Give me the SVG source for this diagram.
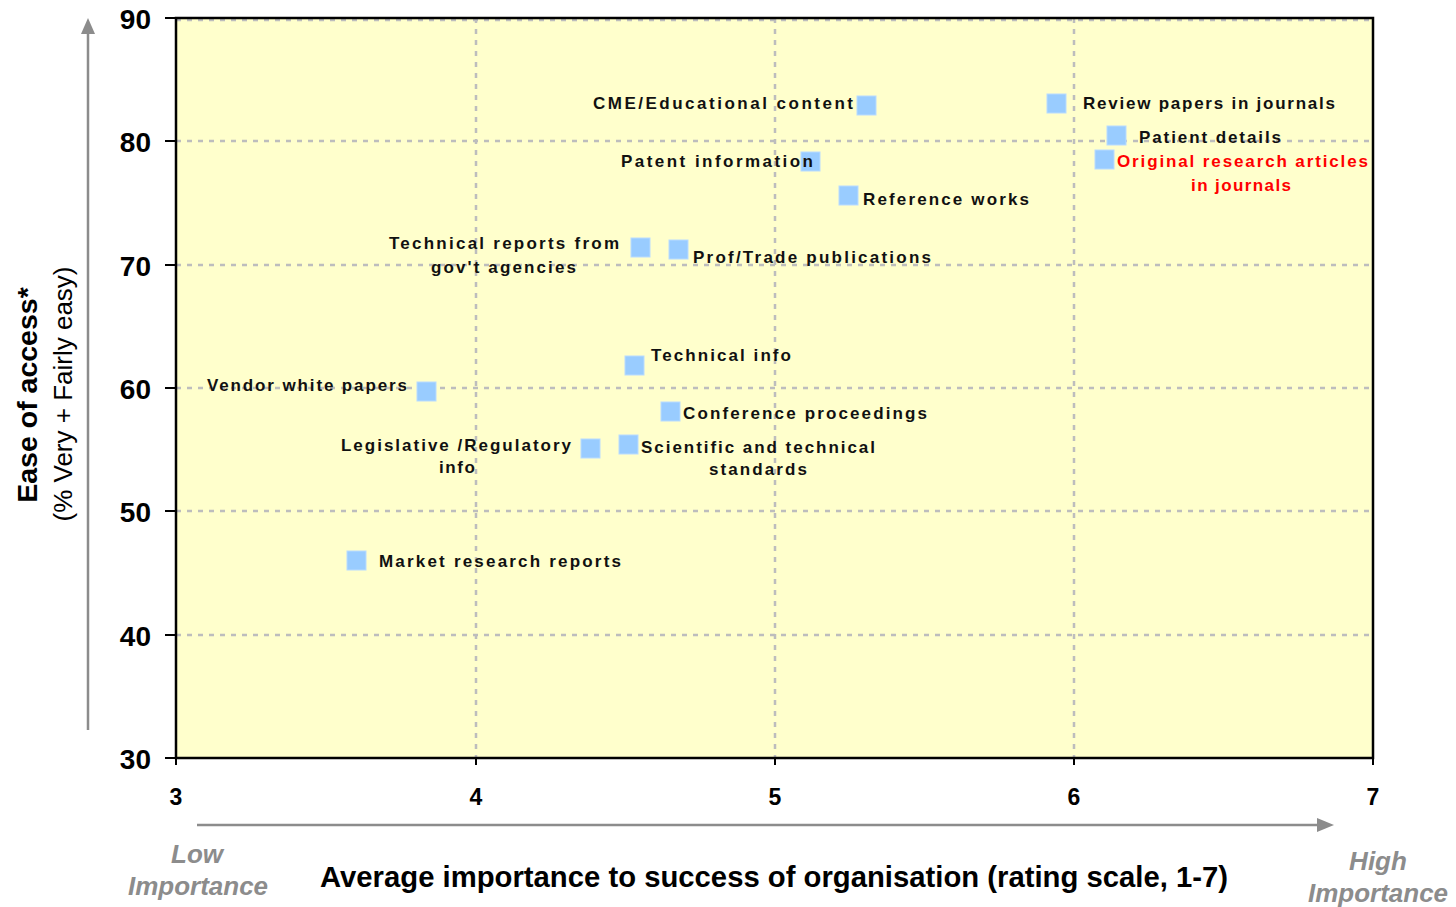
<svg xmlns="http://www.w3.org/2000/svg" width="1456" height="907" viewBox="0 0 1456 907">
<style>
.grid{stroke:#bdbdbd;stroke-width:2.5;stroke-dasharray:5 6;fill:none}
.axis{stroke:#000;stroke-width:2.5;fill:none}
.tick{stroke:#000;stroke-width:2}
.ytl{font-family:"Liberation Sans",Arial,sans-serif;font-weight:bold;font-size:28px;fill:#000;text-anchor:end}
.xtl{font-family:"Liberation Sans",Arial,sans-serif;font-weight:bold;font-size:23px;fill:#000;text-anchor:middle}
.lbl{font-family:"Liberation Sans",Arial,sans-serif;font-weight:bold;font-size:17px;fill:#111}
.red{fill:#ff0000}
.mk{fill:#99ccff;stroke:#b9dcff;stroke-width:1}
.imp{font-family:"Liberation Sans",Arial,sans-serif;font-weight:bold;font-style:italic;font-size:26px;fill:#8c8c8c;text-anchor:middle}
.arr{stroke:#8c8c8c;stroke-width:2.5;fill:none}
</style>
<rect x="0" y="0" width="1456" height="907" fill="#fff"/>
<g id="plot">
<rect x="176" y="18" width="1197" height="740" fill="#ffffcc"/>
<line class="grid" x1="176" y1="20" x2="1373" y2="20"/>
<line class="grid" x1="176" y1="141" x2="1373" y2="141"/>
<line class="grid" x1="176" y1="265" x2="1373" y2="265"/>
<line class="grid" x1="176" y1="388" x2="1373" y2="388"/>
<line class="grid" x1="176" y1="511" x2="1373" y2="511"/>
<line class="grid" x1="176" y1="635" x2="1373" y2="635"/>
<line class="grid" x1="476" y1="18" x2="476" y2="758"/>
<line class="grid" x1="775" y1="18" x2="775" y2="758"/>
<line class="grid" x1="1074" y1="18" x2="1074" y2="758"/>
<path class="axis" d="M176 18 H1373 V758 H176 Z"/>
<g class="tick">
<line x1="165" y1="18" x2="176" y2="18"/>
<line x1="165" y1="141" x2="176" y2="141"/>
<line x1="165" y1="265" x2="176" y2="265"/>
<line x1="165" y1="388" x2="176" y2="388"/>
<line x1="165" y1="511" x2="176" y2="511"/>
<line x1="165" y1="635" x2="176" y2="635"/>
<line x1="165" y1="758" x2="176" y2="758"/>
<line x1="176" y1="758" x2="176" y2="765"/>
<line x1="476" y1="758" x2="476" y2="765"/>
<line x1="775" y1="758" x2="775" y2="765"/>
<line x1="1074" y1="758" x2="1074" y2="765"/>
<line x1="1373" y1="758" x2="1373" y2="765"/>
</g>
<text class="ytl" x="151" y="29">90</text>
<text class="ytl" x="151" y="152">80</text>
<text class="ytl" x="151" y="276">70</text>
<text class="ytl" x="151" y="399">60</text>
<text class="ytl" x="151" y="522">50</text>
<text class="ytl" x="151" y="646">40</text>
<text class="ytl" x="151" y="769">30</text>
<text class="xtl" x="176" y="805">3</text>
<text class="xtl" x="476" y="805">4</text>
<text class="xtl" x="775" y="805">5</text>
<text class="xtl" x="1074" y="805">6</text>
<text class="xtl" x="1373" y="805">7</text>
</g>
<g id="axis-titles">
<text x="0" y="0" transform="translate(37,395) rotate(-90)" text-anchor="middle" font-family="'Liberation Sans',Arial,sans-serif" font-weight="bold" font-size="28.5" fill="#000">Ease of access*</text>
<text x="0" y="0" transform="translate(72,394) rotate(-90)" text-anchor="middle" font-family="'Liberation Sans',Arial,sans-serif" font-size="26" fill="#000">(% Very + Fairly easy)</text>
<text x="320" y="887" textLength="908" lengthAdjust="spacingAndGlyphs" font-family="'Liberation Sans',Arial,sans-serif" font-weight="bold" font-size="29" fill="#000">Average importance to success of organisation (rating scale, 1-7)</text>
<text class="imp" x="197" y="863">Low</text>
<text class="imp" x="198" y="895">Importance</text>
<text class="imp" x="1378" y="870">High</text>
<text class="imp" x="1378" y="902">Importance</text>
</g>
<g id="connectors">
<line class="arr" x1="88" y1="730" x2="88" y2="32"/>
<polygon points="88,18 81,34 95,34" fill="#8c8c8c"/>
<line class="arr" x1="197" y1="825" x2="1318" y2="825"/>
<polygon points="1334,825 1317,818 1317,832" fill="#8c8c8c"/>
</g>
<g id="cme"><rect class="mk" x="857" y="96" width="19" height="19"/><text class="lbl" x="593" y="109" textLength="260">CME/Educational content</text></g>
<g id="review"><rect class="mk" x="1047" y="94" width="19" height="19"/><text class="lbl" x="1083" y="109" textLength="252">Review papers in journals</text></g>
<g id="patient"><rect class="mk" x="1107" y="126" width="19" height="19"/><text class="lbl" x="1139" y="143" textLength="142">Patient details</text></g>
<g id="original"><rect class="mk" x="1095" y="150" width="19" height="19"/><text class="lbl red" x="1117" y="167" textLength="251">Original research articles</text><text class="lbl red" x="1191" y="191" textLength="100">in journals</text></g>
<g id="patent"><rect class="mk" x="801" y="152" width="19" height="19"/><text class="lbl" x="621" y="167" textLength="192">Patent information</text></g>
<g id="reference"><rect class="mk" x="839" y="186" width="19" height="19"/><text class="lbl" x="863" y="205" textLength="166">Reference works</text></g>
<g id="techreports"><rect class="mk" x="631" y="238" width="19" height="19"/><text class="lbl" x="389" y="249" textLength="230">Technical reports from</text><text class="lbl" x="431" y="273" textLength="145">gov't agencies</text></g>
<g id="proftrade"><rect class="mk" x="669" y="240" width="19" height="19"/><text class="lbl" x="693" y="263" textLength="238">Prof/Trade publications</text></g>
<g id="techinfo"><rect class="mk" x="625" y="356" width="19" height="19"/><text class="lbl" x="651" y="361" textLength="140">Technical info</text></g>
<g id="vendor"><rect class="mk" x="417" y="382" width="19" height="19"/><text class="lbl" x="207" y="391" textLength="200">Vendor white papers</text></g>
<g id="conference"><rect class="mk" x="661" y="402" width="19" height="19"/><text class="lbl" x="683" y="419" textLength="244">Conference proceedings</text></g>
<g id="legislative"><rect class="mk" x="581" y="439" width="19" height="19"/><text class="lbl" x="341" y="451" textLength="230">Legislative /Regulatory</text><text class="lbl" x="439" y="473" textLength="36">info</text></g>
<g id="scientific"><rect class="mk" x="619" y="435" width="19" height="19"/><text class="lbl" x="641" y="453" textLength="234">Scientific and technical</text><text class="lbl" x="709" y="475" textLength="98">standards</text></g>
<g id="market"><rect class="mk" x="347" y="551" width="19" height="19"/><text class="lbl" x="379" y="567" textLength="242">Market research reports</text></g>
</svg>
